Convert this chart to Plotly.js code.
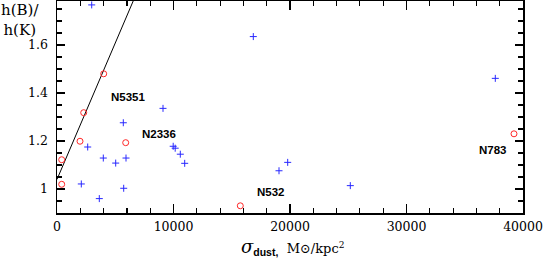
<!DOCTYPE html>
<html>
<head>
<meta charset="utf-8">
<script src="https://cdn.plot.ly/plotly-3.0.1.min.js"></script>
<style>body{margin:0;padding:0;background:#fff;} #plot{width:545px;height:260px;}</style>
</head>
<body>
<div id="plot"></div>
<script>
// Blue crosses
var crossX = [2979, 9099, 5691, 2635, 3974, 5039, 5923, 2086, 5725, 3631, 9974, 10146, 10584, 10961, 19056, 19803, 25176, 16850, 37622];
var crossY = [1.767, 1.336, 1.276, 1.175, 1.129, 1.108, 1.129, 1.021, 1.003, 0.960, 1.178, 1.170, 1.145, 1.107, 1.076, 1.111, 1.014, 1.635, 1.461];
// Red open circles
var circleX = [4009, 2292, 1974, 5897, 403, 403, 15734, 39227];
var circleY = [1.480, 1.318, 1.199, 1.193, 1.122, 1.0196, 0.930, 1.230];
// Fit line
var lineX = [0, 6600];
var lineY = [1.04, 1.79];
// Galaxy labels
var labelText = ["N5351", "N2336", "N532", "N783"];
var labelX = [6052, 8755, 18326, 37425];
var labelY = [1.383, 1.229, 0.989, 1.1625];
// Ticks
var xTickVals = [0, 10000, 20000, 30000, 40000];
var xTickText = ["0", "10000", "20000", "30000", "40000"];
var yTickVals = [1.0, 1.2, 1.4, 1.6];
var yTickText = ["1", "1.2", "1.4", "1.6"];

var serif = "DejaVu Serif";

var traces = [
  {x: lineX, y: lineY, mode: "lines", line: {color: "#000", width: 1}, hoverinfo: "skip", cliponaxis: true},
  {x: crossX, y: crossY, mode: "markers", marker: {symbol: "cross-thin-open", size: 5, line: {color: "#2828ff", width: 1}, color: "#2828ff"}},
  {x: circleX, y: circleY, mode: "markers", marker: {symbol: "circle-open", size: 6, line: {color: "#ff2828", width: 1}, color: "#ff2828"}}
];

var annotations = labelText.map(function(t, i) {
  return {x: labelX[i], y: labelY[i], xref: "x", yref: "y", text: "<b>" + t + "</b>", showarrow: false,
          font: {family: "Liberation Sans", size: 11.5, color: "#000"}, xanchor: "center", yanchor: "middle"};
});
annotations.push({xref: "paper", yref: "paper", x: (20 - 57) / 466, y: (213 - 20) / 212, xanchor: "center", yanchor: "middle",
  text: "h(B)/<br>h(K)", showarrow: false, align: "center", font: {family: serif, size: 15, color: "#000"}});
annotations.push({xref: "paper", yref: "paper", x: (292.5 - 57) / 466, y: (213 - 247) / 212, xanchor: "center", yanchor: "middle",
  text: "<i><span style='font-size:18px'>σ</span></i><sub><b><span style='font-family:Liberation Sans;font-size:10.5px'>dust,</span></b></sub>  M⊙/kpc<sup>2</sup>",
  showarrow: false, font: {family: serif, size: 13, color: "#000"}});

var layout = {
  width: 545, height: 260,
  margin: {l: 57, r: 22, t: 1, b: 47, pad: 0},
  paper_bgcolor: "#fff", plot_bgcolor: "#fff",
  showlegend: false,
  xaxis: {
    range: [0, 40000], showgrid: false, zeroline: false,
    showline: true, linecolor: "#000", linewidth: 1.5, mirror: "allticks",
    ticks: "inside", ticklen: 9, tickwidth: 1.2, tickcolor: "#000",
    tickmode: "array", tickvals: xTickVals, ticktext: xTickText,
    ticklabelstandoff: 1,
    tickfont: {family: serif, size: 12.5, color: "#000"},
    minor: {dtick: 2000, tick0: 0, ticks: "inside", ticklen: 5, tickwidth: 1.2, tickcolor: "#000", showgrid: false}
  },
  yaxis: {
    range: [0.9, 1.7833], showgrid: false, zeroline: false,
    showline: true, linecolor: "#000", linewidth: 1.5, mirror: "allticks",
    ticks: "inside", ticklen: 8, tickwidth: 1.2, tickcolor: "#000",
    tickmode: "array", tickvals: yTickVals, ticktext: yTickText,
    ticklabelstandoff: 5,
    tickfont: {family: serif, size: 12.5, color: "#000"},
    minor: {dtick: 0.05, tick0: 0, ticks: "inside", ticklen: 5, tickwidth: 1.2, tickcolor: "#000", showgrid: false}
  },
  annotations: annotations
};

Plotly.newPlot("plot", traces, layout, {staticPlot: true, displayModeBar: false});
</script>
</body>
</html>
